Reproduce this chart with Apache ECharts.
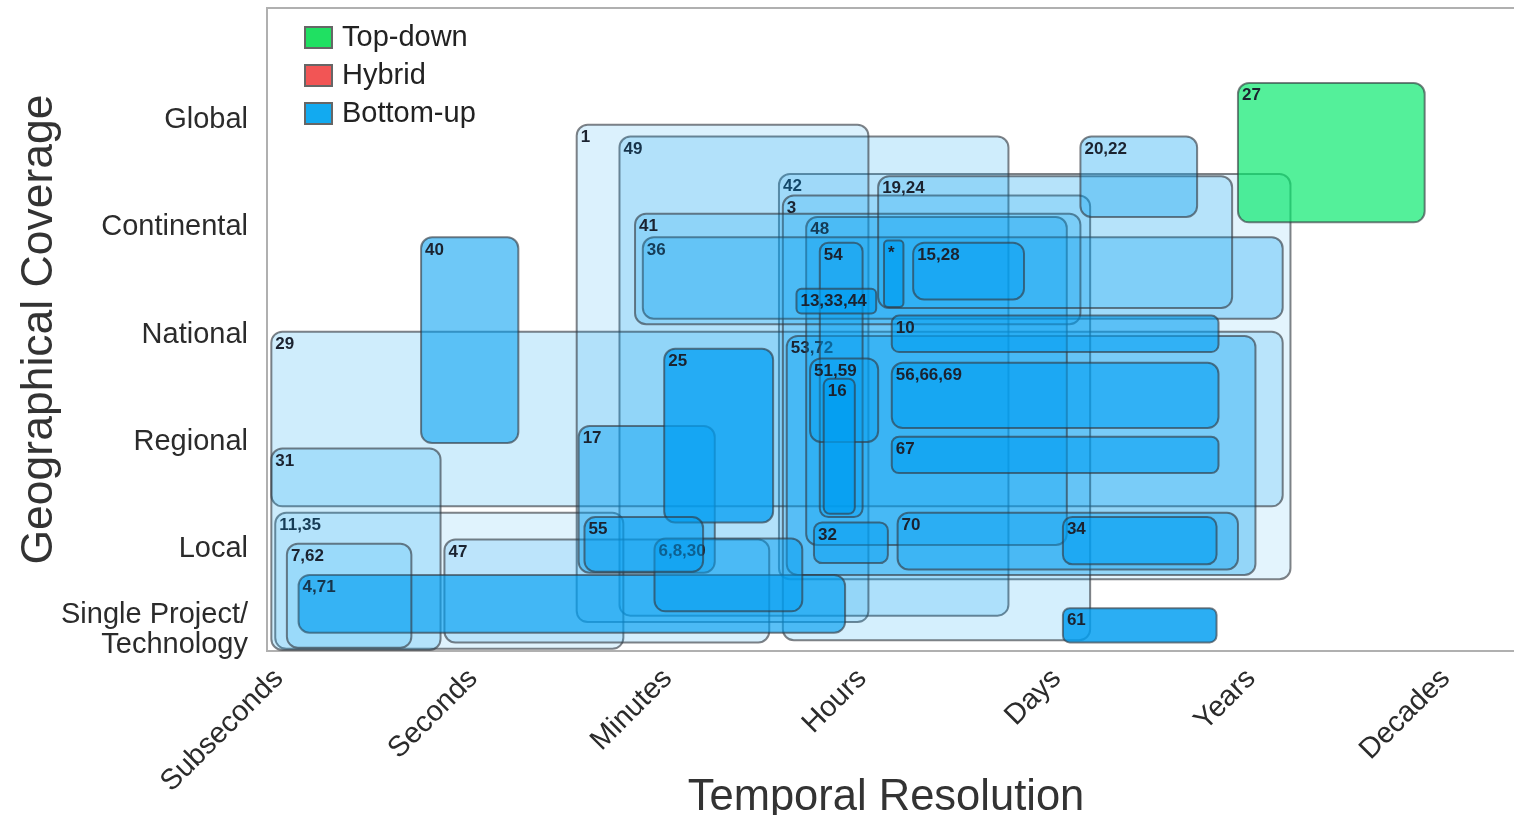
<!DOCTYPE html>
<html>
<head>
<meta charset="utf-8">
<script src="https://cdn.jsdelivr.net/npm/echarts@6/dist/echarts.min.js"></script>
<style>
html,body{margin:0;padding:0;background:#fff;}
#chart{width:1514px;height:815px;}
</style>
</head>
<body>
<div id="chart"></div>
<script>
// ---- tick labels ----
const xLabels = ['Subseconds', 'Seconds', 'Minutes', 'Hours', 'Days', 'Years', 'Decades'];
const yLabels = ['Single Project/\nTechnology', 'Local', 'Regional', 'National', 'Continental', 'Global'];

// ---- boxes (models), in temporal-resolution units (0 = Subseconds ... 6 = Decades)
// and geographical-coverage units (0 = Single Project ... 5 = Global) ----
const boxLabels = ['27', '20,22', '1', '49', '42', '19,24', '3', '41', '48', '36', '54', '*', '15,28', '13,33,44', '10', '40', '29', '53,72', '25', '51,59', '16', '56,66,69', '67', '17', '31', '11,35', '7,62', '47', '4,71', '55', '6,8,30', '32', '70', '34', '61'];
const approach = ['Top-down', 'Bottom-up', 'Bottom-up', 'Bottom-up', 'Bottom-up', 'Bottom-up', 'Bottom-up', 'Bottom-up', 'Bottom-up', 'Bottom-up', 'Bottom-up', 'Bottom-up', 'Bottom-up', 'Bottom-up', 'Bottom-up', 'Bottom-up', 'Bottom-up', 'Bottom-up', 'Bottom-up', 'Bottom-up', 'Bottom-up', 'Bottom-up', 'Bottom-up', 'Bottom-up', 'Bottom-up', 'Bottom-up', 'Bottom-up', 'Bottom-up', 'Bottom-up', 'Bottom-up', 'Bottom-up', 'Bottom-up', 'Bottom-up', 'Bottom-up', 'Bottom-up'];
const resStart = [4.91, 4.10, 1.51, 1.73, 2.55, 3.06, 2.57, 1.81, 2.69, 1.85, 2.76, 3.09, 3.24, 2.64, 3.13, 0.71, -0.06, 2.59, 1.96, 2.71, 2.78, 3.13, 3.13, 1.52, -0.06, -0.04, 0.02, 0.83, 0.08, 1.55, 1.91, 2.73, 3.16, 4.01, 4.01];
const resEnd   = [5.87, 4.70, 3.01, 3.73, 5.18, 4.88, 4.15, 4.10, 4.03, 5.14, 2.98, 3.19, 3.81, 3.05, 4.81, 1.21, 5.14, 5.00, 2.52, 3.06, 2.94, 4.81, 4.81, 2.22, 0.81, 1.75, 0.66, 2.50, 2.89, 2.16, 2.67, 3.11, 4.91, 4.80, 4.80];
const covStart = [4.00, 4.05, 0.27, 0.33, 0.67, 3.20, 0.10, 3.05, 0.99, 3.10, 1.25, 3.21, 3.28, 3.15, 2.79, 1.94, 1.35, 0.71, 1.20, 1.95, 1.28, 2.08, 1.66, 0.73, 0.01, 0.02, 0.03, 0.08, 0.17, 0.74, 0.37, 0.82, 0.76, 0.81, 0.08];
const covEnd   = [5.30, 4.80, 4.91, 4.80, 4.45, 4.43, 4.25, 4.08, 4.05, 3.86, 3.81, 3.83, 3.81, 3.38, 3.13, 3.86, 2.98, 2.94, 2.82, 2.73, 2.54, 2.69, 2.00, 2.10, 1.89, 1.29, 1.00, 1.04, 0.71, 1.25, 1.05, 1.20, 1.29, 1.25, 0.40];

// ---- styles (kept apart from the data) ----
const boxOpacity = [0.67, 0.34, 0.14, 0.19, 0.11, 0.2, 0.17, 0.2, 0.3, 0.3, 0.35, 0.7, 0.45, 0.65, 0.6, 0.57, 0.19, 0.35, 0.75, 0.4, 0.72, 0.6, 0.6, 0.44, 0.2, 0.12, 0.15, 0.16, 0.65, 0.5, 0.5, 0.5, 0.4, 0.6, 0.83];
const approachFill = { 'Top-down': [0, 232, 104], 'Hybrid': [240, 70, 70], 'Bottom-up': [0, 158, 241] };
const legendColor = { 'Top-down': '#20e062', 'Hybrid': '#f25555', 'Bottom-up': '#12aaf0' };
const FONT = "'Liberation Sans', Arial, sans-serif";

// indices drawn largest first so small boxes sit on top
const order = boxLabels.map((_, i) => i).sort((a, b) =>
  (resEnd[b] - resStart[b]) * (covEnd[b] - covStart[b]) - (resEnd[a] - resStart[a]) * (covEnd[a] - covStart[a]));

function seriesData(name) {
  return order.filter(i => approach[i] === name).map(i => [resStart[i], resEnd[i], covStart[i], covEnd[i], i]);
}

function renderItem(params, api) {
  const i = api.value(4);
  const p0 = api.coord([api.value(0), api.value(3)]);
  const p1 = api.coord([api.value(1), api.value(2)]);
  const w = p1[0] - p0[0], h = p1[1] - p0[1];
  const c = approachFill[approach[i]];
  const r = Math.min(11, Math.min(w, h) * 0.2);
  return {
    type: 'group',
    children: [
      {
        type: 'rect',
        shape: { x: p0[0], y: p0[1], width: w, height: h, r: r },
        style: {
          fill: 'rgba(' + c[0] + ',' + c[1] + ',' + c[2] + ',' + boxOpacity[i] + ')',
          stroke: 'rgba(50,55,62,0.62)',
          lineWidth: 2
        }
      },
      {
        type: 'text',
        style: {
          text: boxLabels[i],
          x: p0[0] + 4,
          y: p0[1] + 4,
          font: 'bold 17px ' + FONT,
          fill: '#1b2330',
          verticalAlign: 'top',
          align: 'left'
        }
      }
    ]
  };
}

function mkSeries(name) {
  return {
    name: name,
    type: 'custom',
    renderItem: renderItem,
    itemStyle: { color: legendColor[name], borderColor: '#666', borderWidth: 1 },
    encode: { x: [0, 1], y: [2, 3] },
    data: seriesData(name)
  };
}

const chart = echarts.init(document.getElementById('chart'), null, { renderer: 'canvas' });
chart.setOption({
  animation: false,
  textStyle: { fontFamily: FONT },
  grid: {
    left: 267, top: 8, right: -5, bottom: 164,
    outerBoundsMode: 'none', containLabel: false,
    show: true, borderColor: '#b0b0b0', borderWidth: 2
  },
  legend: {
    orient: 'vertical', left: 299, top: 18,
    icon: 'rect', itemWidth: 27, itemHeight: 21, itemGap: 9,
    data: ['Top-down', 'Hybrid', 'Bottom-up'],
    textStyle: { fontSize: 29, color: '#222', fontFamily: FONT, padding: [0, 0, 0, 5] }
  },
  xAxis: {
    type: 'value', min: -0.0823, max: 6.355,
    axisLine: { show: true, onZero: false, lineStyle: { color: '#b0b0b0', width: 2 } },
    axisTick: { show: false }, splitLine: { show: false },
    axisLabel: {
      customValues: [-0.022, 0.978, 1.978, 2.978, 3.978, 4.978, 5.978],
      formatter: v => xLabels[Math.round(v)],
      rotate: 45, fontSize: 29, color: '#2b2b2b', margin: 23, fontFamily: FONT
    },
    name: 'Temporal Resolution', nameLocation: 'middle', nameGap: 125, nameMoveOverlap: false,
    nameTextStyle: { fontSize: 43.5, color: '#333', fontFamily: FONT, padding: [0, 14, 0, 0] }
  },
  yAxis: {
    type: 'value', min: 0, max: 6,
    axisLine: { show: true, onZero: false, lineStyle: { color: '#b0b0b0', width: 2 } },
    axisTick: { show: false }, splitLine: { show: false },
    axisLabel: {
      customValues: [0.2, 0.953, 1.953, 2.953, 3.953, 4.953],
      formatter: v => yLabels[Math.round(v)],
      fontSize: 29, color: '#2b2b2b', margin: 19, lineHeight: 30, align: 'right', fontFamily: FONT
    },
    name: 'Geographical Coverage', nameLocation: 'middle', nameGap: 205, nameMoveOverlap: false,
    nameTextStyle: { fontSize: 44.5, color: '#333', fontFamily: FONT }
  },
  series: [mkSeries('Bottom-up'), mkSeries('Top-down'), mkSeries('Hybrid')]
});
</script>
</body>
</html>
